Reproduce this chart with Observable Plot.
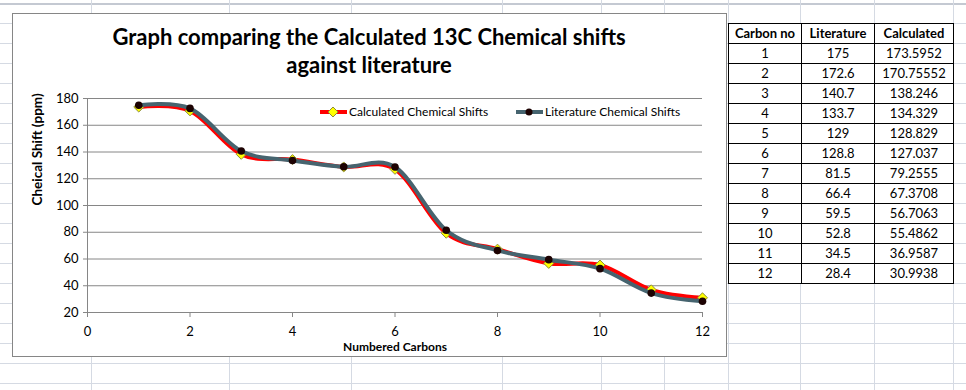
<!DOCTYPE html>
<html><head><meta charset="utf-8">
<script src="https://cdn.jsdelivr.net/npm/d3@7"></script>
<script src="https://cdn.jsdelivr.net/npm/@observablehq/plot@0.6"></script>
<style>
html,body{margin:0;padding:0;background:#fff;}
body{width:966px;height:390px;position:relative;overflow:hidden;font-family:Lato,"Open Sans",sans-serif;color:#000;}
.gl{position:absolute;background:#d5dae3;}
#frame{position:absolute;left:12px;top:13px;width:715px;height:344px;box-sizing:border-box;border:1px solid #868686;background:#fff;}
#chart{position:absolute;left:12px;top:13px;}
#chart svg{display:block;width:714px;height:343px;max-width:none;}
#title{position:absolute;left:12px;top:23px;width:714px;text-align:center;font-weight:bold;font-size:22px;line-height:28px;}
.leg{position:absolute;top:105px;height:14px;font-size:12px;line-height:14px;white-space:nowrap;}
.leg svg{position:absolute;top:2px;left:0;}
#tbl{position:absolute;left:728px;top:23px;border-collapse:collapse;table-layout:fixed;background:#fff;font-size:13px;}
#tbl td,#tbl th{border:1px solid #000;height:19px;padding:0;text-align:center;line-height:19px;}
#tbl th{font-weight:bold;}
</style></head>
<body>
<div id="grid"></div>
<div id="frame"></div>
<div id="chart"></div>
<div id="title">Graph comparing the Calculated 13C Chemical shifts<br>against literature</div>
<div id="legend"></div>
<table id="tbl"><colgroup><col style="width:73px"><col style="width:73px"><col style="width:79px"></colgroup><thead></thead><tbody></tbody></table>
<script>
// ---- data ----
const carbonNo = [1,2,3,4,5,6,7,8,9,10,11,12];
const literature = [175,172.6,140.7,133.7,129,128.8,81.5,66.4,59.5,52.8,34.5,28.4];
const calculatedText = ["173.5952","170.75552","138.246","134.329","128.829","127.037","79.2555","67.3708","56.7063","55.4862","36.9587","30.9938"];
const calculated = calculatedText.map(Number);
const tableHeaders = ["Carbon no","Literature","Calculated"];
const xTicks = [0,2,4,6,8,10,12];
const yTicks = [20,40,60,80,100,120,140,160,180];
const seriesNames = ["Calculated Chemical Shifts","Literature Chemical Shifts"];

// ---- spreadsheet background grid (decoration) ----
const colLines = [91,229,351,502,601,664,728,800,874,953];
const grid = document.getElementById("grid");
for (let y = 3; y < 390; y += 20) {
  const d = document.createElement("div"); d.className = "gl";
  d.style.cssText = `left:0;top:${y}px;width:966px;height:1px;` + (y===3?"background:#c4c9d2;height:2px;":"");
  grid.appendChild(d);
}
for (const x of colLines) {
  const d = document.createElement("div"); d.className = "gl";
  d.style.cssText = `left:${x}px;top:0;width:1px;height:390px;`;
  grid.appendChild(d);
}

// ---- chart ----
const calcData = carbonNo.map((c,i)=>({c, v: calculated[i]}));
const litData = carbonNo.map((c,i)=>({c, v: literature[i]}));
const axisColor = "#868686";
const chart = Plot.plot({
  width:714, height:343,
  marginLeft:75, marginRight:24, marginTop:85, marginBottom:44,
  style:{background:"transparent", fontFamily:"Lato, 'Open Sans', sans-serif", fontSize:"13px", color:"#000", overflow:"visible"},
  x:{domain:[0,12]},
  y:{domain:[20,180]},
  marks:[
    Plot.gridY(yTicks.filter(t=>t>20), {stroke:axisColor, strokeOpacity:1, strokeWidth:1}),
    Plot.ruleX([0], {stroke:axisColor}),
    Plot.ruleY([20], {stroke:axisColor}),
    Plot.axisY(yTicks, {tickSize:4, tickPadding:5, stroke:axisColor, label:null, fontSize:13}),
    Plot.axisX(xTicks, {tickSize:5, tickPadding:9, stroke:axisColor, label:null, fontSize:13}),
    Plot.text(["Numbered Carbons"], {text:d=>d, frameAnchor:"bottom", dy:38, fontWeight:"bold", fontSize:12}),
    Plot.text(["Cheical Shift (ppm)"], {text:d=>d, frameAnchor:"left", dx:-50, rotate:-90, fontWeight:"bold", fontSize:13.5}),
    Plot.line(calcData, {x:"c", y:"v", curve:"cardinal", stroke:"#ff0000", strokeWidth:4}),
    Plot.dot(calcData, {x:"c", y:"v", symbol:"diamond2", fill:"#ffff00", stroke:"#8c8c3a", strokeWidth:1, r:4.5}),
    Plot.line(litData, {x:"c", y:"v", curve:"cardinal", stroke:"#46646f", strokeWidth:4}),
    Plot.dot(litData, {x:"c", y:"v", fill:"#1c0202", r:3.8})
  ]
});
document.getElementById("chart").appendChild(chart);

// ---- legend ----
const legend = document.getElementById("legend");
const legItems = [
  {name:seriesNames[0], left:320, line:"#ff0000", marker:`<path d="M13,0L18,5L13,10L8,5Z" fill="#ffff00" stroke="#8c8c3a"/>`},
  {name:seriesNames[1], left:516, line:"#46646f", marker:`<circle cx="13" cy="5" r="3.5" fill="#1c0202"/>`}
];
for (const it of legItems) {
  const d = document.createElement("div"); d.className = "leg";
  d.style.left = it.left + "px";
  d.innerHTML = `<svg width="27" height="10"><line x1="0" x2="27" y1="5" y2="5" stroke="${it.line}" stroke-width="4"/>${it.marker}</svg><span style="margin-left:29px">${it.name}</span>`;
  legend.appendChild(d);
}

// ---- table ----
const thead = document.querySelector("#tbl thead");
thead.innerHTML = "<tr>" + tableHeaders.map(h=>`<th>${h}</th>`).join("") + "</tr>";
const tbody = document.querySelector("#tbl tbody");
tbody.innerHTML = carbonNo.map((c,i)=>`<tr><td>${c}</td><td>${literature[i]}</td><td>${calculatedText[i]}</td></tr>`).join("");
</script>
</body></html>
